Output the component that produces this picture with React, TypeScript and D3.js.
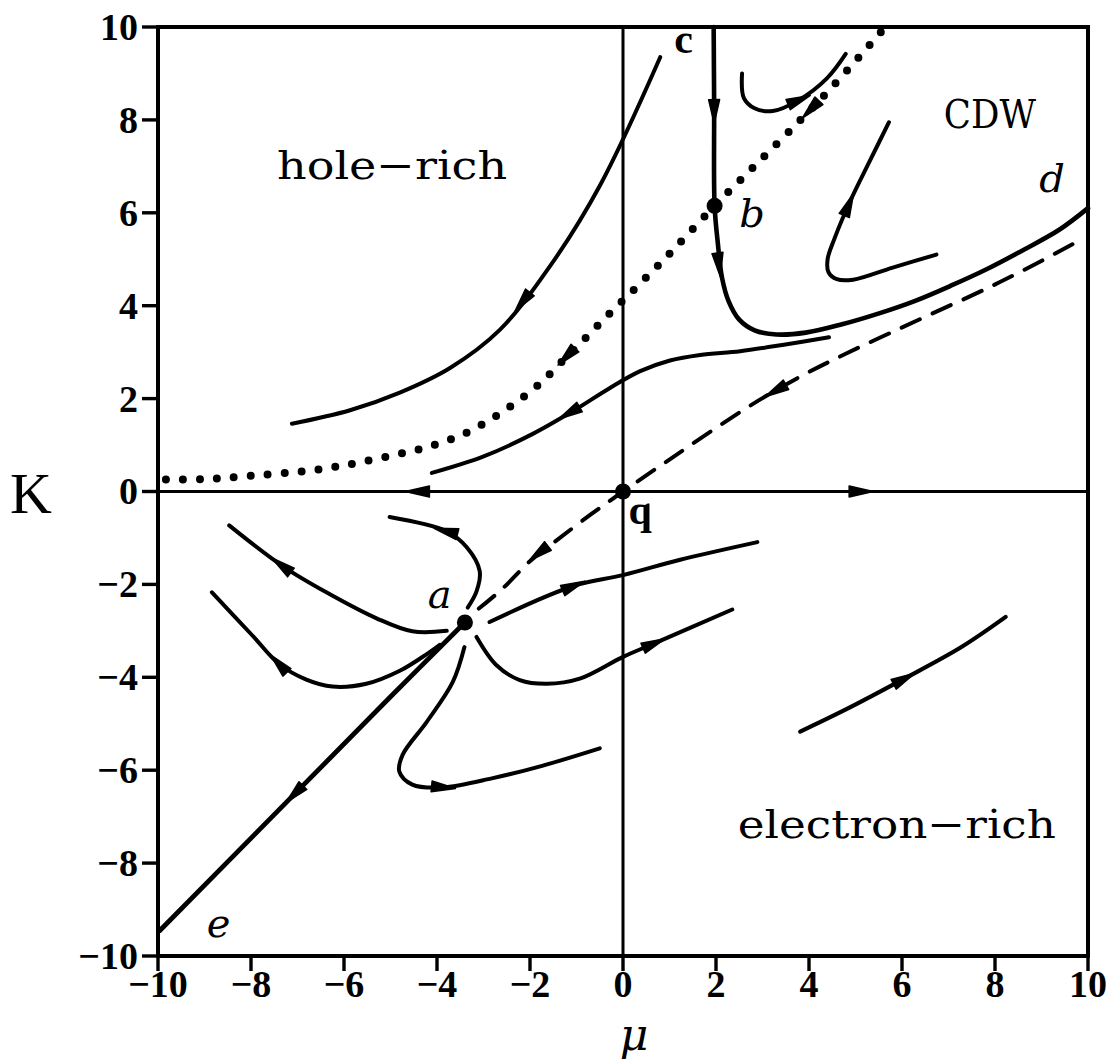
import React, { useLayoutEffect } from "react";
import * as d3 from "d3";

type P = [number, number];

const X_TICKS = [-10, -8, -6, -4, -2, 0, 2, 4, 6, 8, 10];
const Y_TICKS = [-10, -8, -6, -4, -2, 0, 2, 4, 6, 8, 10];

// fixed points
const FIXED_A: P = [-3.4, -2.82];
const FIXED_B: P = [1.97, 6.15];
const FIXED_Q: P = [0, 0];

// axes through the origin
const K_AXIS: P[] = [[-10, 0], [10, 0]];
const MU_AXIS: P[] = [[0, -10], [0, 10]];

// dotted separatrix through b
const DOTTED: P[] = [
  [-9.83, 0.26], [-8.9, 0.27], [-7.97, 0.34], [-6.92, 0.43], [-6.25, 0.52], [-5.6, 0.64],
  [-4.85, 0.8], [-4.16, 0.97], [-3.51, 1.2], [-2.93, 1.5], [-2.33, 1.9], [-1.79, 2.32],
  [-1.31, 2.8], [-0.78, 3.33], [-0.32, 3.8], [0.19, 4.3], [0.65, 4.76], [1.0, 5.12],
  [1.97, 6.15], [2.95, 7.13], [3.81, 7.99], [4.46, 8.67], [5.1, 9.38], [5.6, 9.95],
];

// c -> b -> d
const C_LINE: P[] = [
  [1.95, 10], [1.96, 8.3], [1.97, 6.15], [2.04, 5.34], [2.13, 4.6], [2.27, 4.1],
  [2.5, 3.7], [2.83, 3.47], [3.3, 3.38], [3.93, 3.42], [4.71, 3.6], [5.49, 3.83],
  [6.27, 4.1], [7.05, 4.43], [7.83, 4.79], [8.61, 5.2], [9.39, 5.64], [10, 6.1],
];

// dashed separatrix a -> q -> right edge
const DASHED: P[] = [
  [-3.1, -2.52], [-2.6, -2.1], [-2.0, -1.5], [-1.4, -1.03], [-0.7, -0.5], [0, 0],
  [0.9, 0.62], [1.9, 1.3], [2.9, 1.95], [3.9, 2.52], [4.8, 2.97], [5.8, 3.44],
  [6.8, 3.9], [7.8, 4.36], [8.8, 4.86], [9.9, 5.45],
];

// e -> a
const E_LINE: P[] = [[-9.96, -9.45], [-7.05, -6.5], [-5.0, -4.42], [-3.45, -2.87]];

// flow lines around a
const H1: P[] = [[-8.47, -0.73], [-7.33, -1.6], [-6.38, -2.17], [-5.3, -2.73], [-4.53, -3.01], [-3.79, -3.0]];
const H2: P[] = [[-8.84, -2.17], [-7.97, -3.1], [-7.39, -3.72], [-6.81, -4.05], [-6.25, -4.2], [-5.52, -4.14], [-4.8, -3.86], [-4.22, -3.5], [-3.94, -3.3]];
const H3: P[] = [[-5.02, -0.55], [-3.79, -0.86], [-3.36, -1.2], [-3.08, -1.72], [-3.15, -2.15], [-3.34, -2.5]];
const H4: P[] = [[-2.87, -2.81], [-1.08, -2.04], [0, -1.8], [1.23, -1.47], [2.89, -1.09]];
const H5: P[] = [[-3.15, -3.13], [-2.72, -3.74], [-2.22, -4.06], [-1.64, -4.14], [-0.93, -4.03], [0, -3.56], [0.65, -3.28], [2.35, -2.54]];
const H6: P[] = [[-3.41, -3.35], [-3.66, -4.1], [-4.22, -4.96], [-4.74, -5.67], [-4.81, -6.03], [-4.53, -6.31], [-3.88, -6.37], [-2.8, -6.17], [-1.72, -5.9], [-0.5, -5.53]];

// hole-rich flow lines
const I1: P[] = [[-7.12, 1.46], [-5.87, 1.75], [-4.8, 2.13], [-3.72, 2.66], [-2.65, 3.48], [-1.57, 4.85], [-0.49, 6.6], [0.8, 9.35]];
const I2: P[] = [[-4.11, 0.4], [-3.01, 0.75], [-1.94, 1.24], [-1.03, 1.76], [-0.28, 2.23], [0.37, 2.59], [1.01, 2.82], [1.66, 2.94], [2.52, 3.02], [3.46, 3.16], [4.43, 3.32]];

// CDW flow lines
const J1: P[] = [[2.56, 9.0], [2.6, 8.47], [2.83, 8.25], [3.22, 8.19], [3.77, 8.42], [4.39, 8.9], [4.79, 9.42]];
const J2: P[] = [[5.72, 7.95], [5.3, 7.1], [4.9, 6.28], [4.55, 5.45], [4.4, 5.0], [4.42, 4.72], [4.6, 4.57], [4.95, 4.56], [5.8, 4.82], [6.74, 5.1]];

// electron-rich flow line
const L1: P[] = [[3.81, -5.17], [4.74, -4.72], [6.03, -4.04], [7.26, -3.36], [8.23, -2.7]];

type Arrow = { at: P; dir: number };
type Curve = { pts: P[]; style: "solid" | "dotted" | "dashed"; w: number; arrows: Arrow[] };

const CURVES: Curve[] = [
  { pts: MU_AXIS, style: "solid", w: 3, arrows: [] },
  { pts: K_AXIS, style: "solid", w: 3, arrows: [{ at: [-4.4, 0], dir: -1 }, { at: [5.1, 0], dir: 1 }] },
  { pts: DOTTED, style: "dotted", w: 8, arrows: [{ at: [-1.2, 2.92], dir: -1 }, { at: [4.05, 8.24], dir: -1 }] },
  { pts: C_LINE, style: "solid", w: 4.6, arrows: [{ at: [1.96, 8.2], dir: 1 }, { at: [2.06, 4.9], dir: 1 }] },
  { pts: DASHED, style: "dashed", w: 4, arrows: [{ at: [-1.8, -1.32], dir: -1 }, { at: [3.3, 2.18], dir: -1 }] },
  { pts: E_LINE, style: "solid", w: 4.8, arrows: [{ at: [-7.05, -6.5], dir: -1 }] },
  { pts: H1, style: "solid", w: 4, arrows: [{ at: [-7.33, -1.6], dir: -1 }] },
  { pts: H2, style: "solid", w: 4, arrows: [{ at: [-7.39, -3.72], dir: -1 }] },
  { pts: H3, style: "solid", w: 4, arrows: [{ at: [-3.79, -0.86], dir: -1 }] },
  { pts: H4, style: "solid", w: 4, arrows: [{ at: [-1.08, -2.04], dir: 1 }] },
  { pts: H5, style: "solid", w: 4, arrows: [{ at: [0.65, -3.28], dir: 1 }] },
  { pts: H6, style: "solid", w: 4, arrows: [{ at: [-3.88, -6.37], dir: 1 }] },
  { pts: I1, style: "solid", w: 4, arrows: [{ at: [-2.15, 4.1], dir: -1 }] },
  { pts: I2, style: "solid", w: 4, arrows: [{ at: [-1.14, 1.7], dir: -1 }] },
  { pts: J1, style: "solid", w: 4, arrows: [{ at: [3.77, 8.42], dir: 1 }] },
  { pts: J2, style: "solid", w: 4, arrows: [{ at: [4.85, 6.16], dir: -1 }] },
  { pts: L1, style: "solid", w: 4.2, arrows: [{ at: [6.03, -4.04], dir: 1 }] },
];

const REGION_LABELS = [
  { text: "hole\u2212rich", at: [-7.44, 6.72] as P, size: 40, len: 230 },
  { text: "CDW", at: [6.9, 7.83] as P, size: 40, len: 92 },
  { text: "electron\u2212rich", at: [2.47, -7.46] as P, size: 40, len: 318 },
];

const POINT_LABELS = [
  { text: "a", at: [-4.2, -2.5] as P, italic: true, bold: false },
  { text: "b", at: [2.5, 5.7] as P, italic: true, bold: false },
  { text: "c", at: [1.1, 9.45] as P, italic: false, bold: true },
  { text: "d", at: [8.95, 6.45] as P, italic: true, bold: false },
  { text: "e", at: [-8.95, -9.6] as P, italic: true, bold: false },
  { text: "q", at: [0.12, -0.7] as P, italic: false, bold: true },
];

const W = 1117;
const H = 1062;
const x = d3.scaleLinear().domain([-10, 10]).range([158, 1088]);
const y = d3.scaleLinear().domain([-10, 10]).range([956, 27]);
const lineGen = d3
  .line<P>()
  .x((d) => x(d[0]))
  .y((d) => y(d[1]))
  .curve(d3.curveCatmullRom.alpha(0.5));

function arrowTransform(pts: P[], a: Arrow): string {
  const px = pts.map((p) => [x(p[0]), y(p[1])]);
  const ax = x(a.at[0]);
  const ay = y(a.at[1]);
  let best = 0;
  let bestD = Infinity;
  for (let i = 0; i < px.length - 1; i++) {
    const [x1, y1] = px[i];
    const [x2, y2] = px[i + 1];
    const dx = x2 - x1;
    const dy = y2 - y1;
    const len2 = dx * dx + dy * dy || 1;
    let t = ((ax - x1) * dx + (ay - y1) * dy) / len2;
    t = Math.max(0, Math.min(1, t));
    const qx = x1 + t * dx;
    const qy = y1 + t * dy;
    const d = (qx - ax) ** 2 + (qy - ay) ** 2;
    if (d < bestD) {
      bestD = d;
      best = i;
    }
  }
  const [x1, y1] = px[best];
  const [x2, y2] = px[best + 1];
  let ang = (Math.atan2(y2 - y1, x2 - x1) * 180) / Math.PI;
  if (a.dir < 0) ang += 180;
  return `translate(${ax},${ay}) rotate(${ang})`;
}

export default function App() {
  useLayoutEffect(() => {
    document.body.style.margin = "0";
  }, []);

  const tickFont = {
    fontFamily: "'Liberation Serif', 'Times New Roman', serif",
    fontWeight: 700 as const,
    fontSize: 38,
  };

  return (
    <svg width={W} height={H} style={{ display: "block", background: "#fff" }}>
      {/* frame */}
      <rect x={x(-10)} y={y(10)} width={x(10) - x(-10)} height={y(-10) - y(10)} fill="none" stroke="#000" strokeWidth={4} />

      {/* ticks */}
      {X_TICKS.map((t) => (
        <g key={"xt" + t}>
          <line x1={x(t)} x2={x(t)} y1={y(-10)} y2={y(-10) + 15} stroke="#000" strokeWidth={3.4} />
          <text x={x(t)} y={997} textAnchor="middle" {...tickFont}>
            {t < 0 ? "\u2212" + Math.abs(t) : String(t)}
          </text>
        </g>
      ))}
      {Y_TICKS.map((t) => (
        <g key={"yt" + t}>
          <line x1={x(-10) - 16} x2={x(-10)} y1={y(t)} y2={y(t)} stroke="#000" strokeWidth={3.4} />
          <text x={x(-10) - 20} y={y(t)} dy="0.34em" textAnchor="end" {...tickFont}>
            {t < 0 ? "\u2212" + Math.abs(t) : String(t)}
          </text>
        </g>
      ))}

      {/* axis titles */}
      <text x={10} y={513} fontFamily="'Liberation Serif', serif" fontSize={58}>K</text>
      <text x={634} y={1050} textAnchor="middle" fontFamily="'DejaVu Serif', serif" fontStyle="italic" fontSize={44}>{"\u03bc"}</text>

      {/* curves */}
      {CURVES.map((c, i) => (
        <path
          key={"c" + i}
          d={lineGen(c.pts) || ""}
          fill="none"
          stroke="#000"
          strokeWidth={c.w}
          strokeLinecap="round"
          strokeLinejoin="round"
          strokeDasharray={c.style === "dotted" ? "0 17" : c.style === "dashed" ? "20 14" : undefined}
        />
      ))}

      {/* arrows */}
      {CURVES.flatMap((c, i) =>
        c.arrows.map((a, j) => (
          <polygon
            key={`a${i}-${j}`}
            points="13,0 -11,-5.5 -11,5.5"
            transform={arrowTransform(c.pts, a)}
            fill="#000"
            stroke="#000"
            strokeWidth={1.5}
            strokeLinejoin="round"
          />
        ))
      )}

      {/* fixed points */}
      {[FIXED_A, FIXED_B, FIXED_Q].map((p, i) => (
        <circle key={"fp" + i} cx={x(p[0])} cy={y(p[1])} r={8} fill="#000" />
      ))}

      {/* region labels */}
      {REGION_LABELS.map((l) => (
        <text
          key={l.text}
          x={x(l.at[0])}
          y={y(l.at[1])}
          fontFamily="'DejaVu Serif', serif"
          fontSize={l.size}
          textLength={l.len}
          lengthAdjust="spacingAndGlyphs"
        >
          {l.text}
        </text>
      ))}

      {/* point labels */}
      {POINT_LABELS.map((l) => (
        <text
          key={l.text}
          x={x(l.at[0])}
          y={y(l.at[1])}
          fontFamily={l.italic ? "'DejaVu Serif', serif" : "'Liberation Serif', serif"}
          fontStyle={l.italic ? "italic" : "normal"}
          fontWeight={l.bold ? 700 : 400}
          fontSize={l.bold ? 42 : 40}
        >
          {l.text}
        </text>
      ))}
    </svg>
  );
}
